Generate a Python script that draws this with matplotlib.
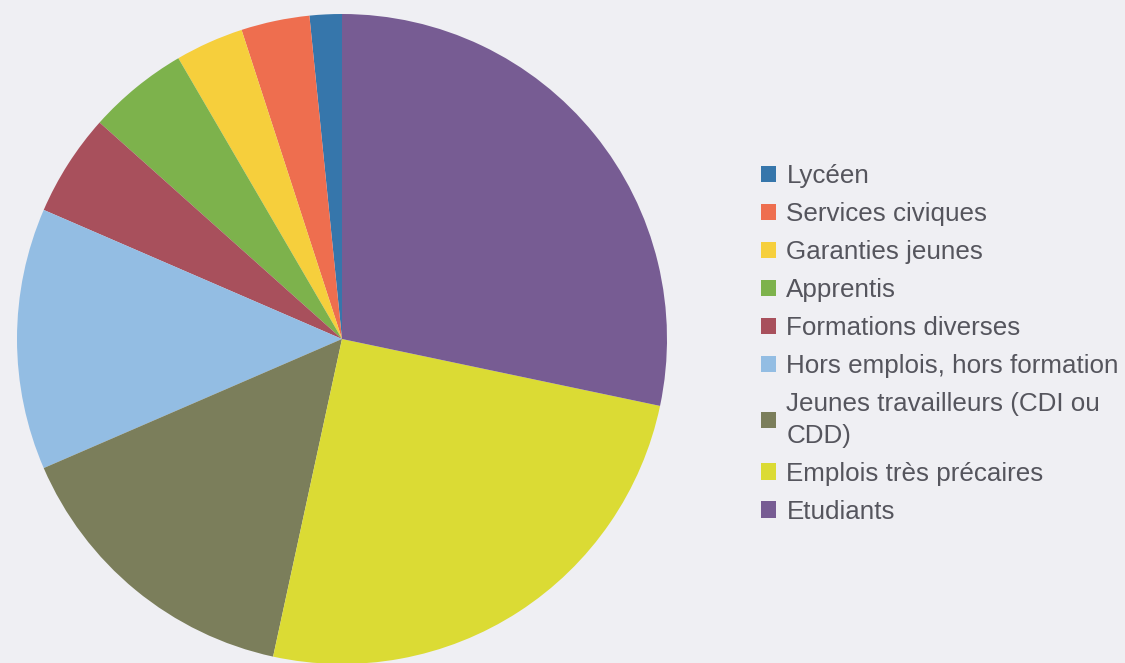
import matplotlib
matplotlib.use("Agg")
import matplotlib.pyplot as plt

categories = ["Lycéen", "Services civiques", "Garanties jeunes", "Apprentis",
              "Formations diverses", "Hors emplois, hors formation",
              "Jeunes travailleurs (CDI ou\nCDD)", "Emplois très précaires", "Etudiants"]
values = [1.6, 3.4, 3.4, 5.0, 5.1, 13.0, 15.1, 25.1, 28.3]
colors = ["#3676ab", "#ee6e4f", "#f6cf3c", "#7db24c", "#a8505c",
          "#93bde3", "#7b7e5b", "#dbdb34", "#775c93"]

W, H = 1125, 663
fig = plt.figure(figsize=(W / 100, H / 100), dpi=100)
bg = "#efeff3"
fig.patch.set_facecolor(bg)
ax = fig.add_axes([0, 0, 1, 1])
ax.set_facecolor(bg)

wedges, _ = ax.pie(values, colors=colors, startangle=90, counterclock=True,
                   center=(342, H - 339), radius=325,
                   wedgeprops=dict(linewidth=0), frame=True)
ax.set_xlim(0, W)
ax.set_ylim(0, H)
ax.set_aspect("auto")
ax.axis("off")

leg = fig.legend(wedges, categories, loc="center left",
                 bbox_to_anchor=(761 / W, 1 - 344 / H),
                 frameon=False, borderpad=0, borderaxespad=0,
                 handlelength=0.58, handleheight=0.58, handletextpad=0.4,
                 labelspacing=0.54,
                 prop=dict(family="Liberation Sans", size=18.7))
for t in leg.get_texts():
    t.set_color("#55555d")
    t.set_linespacing(1.38)

fig.savefig("out.png", dpi=100, facecolor=bg)
